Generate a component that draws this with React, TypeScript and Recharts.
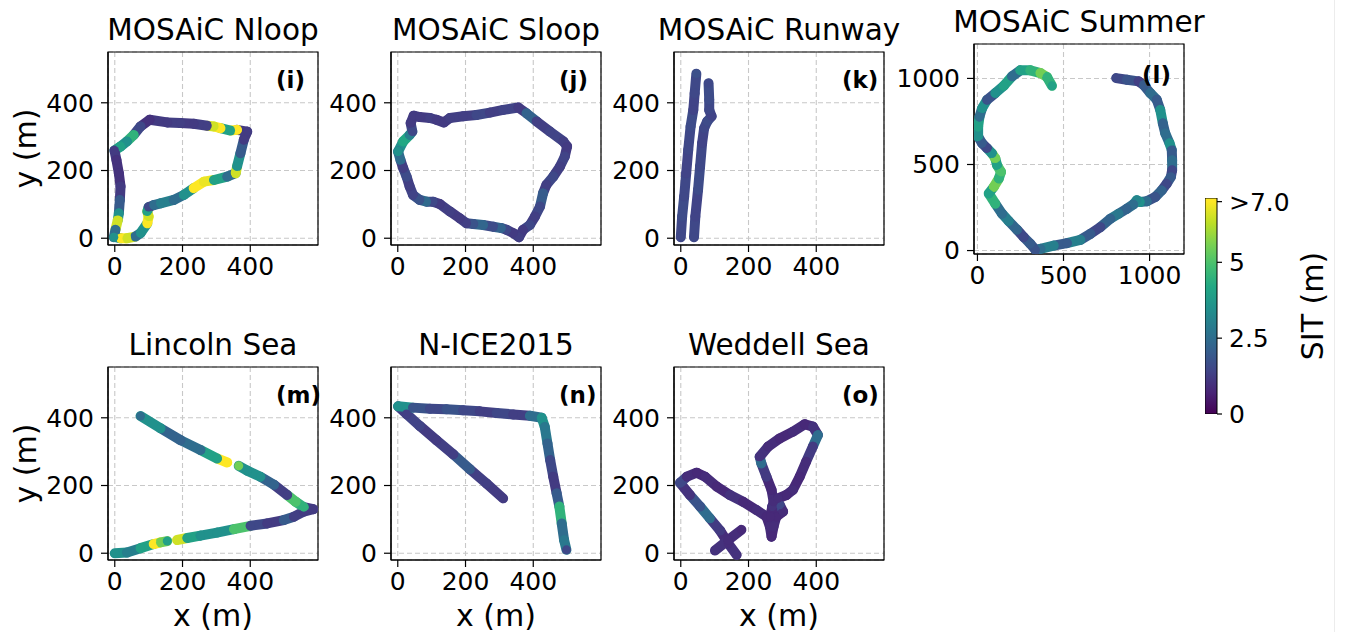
import React from "react";
import {
  ScatterChart,
  Scatter,
  XAxis,
  YAxis,
  ZAxis,
  CartesianGrid,
  ReferenceArea,
  Label,
  Cell,
  BarChart,
  Bar,
} from "recharts";

// survey tracks: x (m), y (m), SIT (m)
type Pt = [number, number, number];

const NLOOP: Pt[] = [
  [2, 3, 3.5], [17, 0, 7], [36, 0, 6.5], [61, 5, 2.5], [76, 15, 3.5], [96, 44, 7], [100, 64, 6.5],
  [96, 79, 4], [100, 92, 1.5], [115, 98, 2.5], [135, 103, 3], [174, 113, 2.5], [204, 128, 3.5],
  [233, 148, 7], [263, 167, 6.8], [293, 172, 4], [332, 182, 2.5], [357, 192, 6.5], [361, 212, 3.5],
  [371, 251, 2], [381, 291, 1.2], [391, 315, 1.2], [361, 320, 7], [342, 318, 4], [312, 325, 7],
  [293, 330, 6.5], [273, 332, 1.3], [233, 338, 1.2], [194, 340, 1.3], [155, 342, 1.2], [103, 350, 1.0],
  [76, 330, 1.5], [56, 305, 4.5], [36, 286, 3.5], [17, 271, 4], [-1, 259, 1.2], [5, 231, 1.0],
  [12, 192, 1.0], [17, 153, 1.2], [15, 113, 2.0], [12, 74, 3.5], [9, 54, 6.5], [2, 25, 2.5], [-3, 3, 3.5],
];

const SLOOP: Pt[] = [
  [1, 256, 3.5], [16, 286, 4.2], [35, 305, 3], [43, 315, 1.5], [38, 340, 1.2], [47, 362, 1.2],
  [65, 358, 1.2], [95, 355, 1.3], [114, 350, 1.2], [136, 342, 1.2], [154, 355, 1.3], [193, 360, 1.3],
  [232, 364, 1.5], [272, 371, 1.3], [311, 379, 1.4], [356, 386, 1.2], [380, 369, 2.2], [410, 345, 1.3],
  [449, 315, 1.4], [489, 286, 1.3], [500, 271, 1.2], [493, 241, 1.4], [479, 212, 1.3], [459, 182, 1.5],
  [439, 158, 1.3], [429, 133, 2], [420, 94, 1.5], [405, 64, 1.3], [390, 39, 1.5], [370, 25, 1.2],
  [358, 3, 1.3], [341, 15, 1.2], [321, 25, 1.5], [306, 30, 2.2], [282, 34, 1.6], [252, 39, 2.3],
  [223, 42, 1.8], [203, 44, 1.3], [183, 59, 1.2], [154, 79, 1.3], [124, 101, 1.2], [104, 108, 1.5],
  [85, 108, 2.4], [65, 113, 1.8], [45, 128, 1.4], [35, 153, 1.3], [26, 182, 1.6], [16, 207, 1.3],
  [8, 231, 2.5], [1, 256, 3.5],
];

const RUNWAY_A: Pt[] = [
  [0, 3, 1.5], [4, 64, 1.6], [10, 123, 1.5], [16, 192, 1.4], [22, 261, 1.5], [29, 330, 1.6],
  [37, 379, 1.4], [41, 428, 1.5], [46, 486, 1.7],
];
const RUNWAY_B: Pt[] = [
  [39, 3, 1.5], [43, 64, 1.4], [51, 143, 1.6], [57, 212, 1.5], [63, 281, 1.4], [69, 325, 1.5],
  [78, 345, 1.6], [91, 360, 1.4], [84, 379, 1.5], [84, 409, 1.6], [82, 458, 1.5],
];

const SUMMER: Pt[] = [
  [806, 1002, 1.5], [868, 992, 1.8], [936, 983, 1.3], [965, 963, 2], [1004, 915, 2.5], [1042, 876, 2],
  [1062, 817, 3.5], [1077, 739, 2.2], [1091, 681, 2.5], [1116, 623, 3.5], [1129, 584, 2], [1131, 525, 2.5],
  [1131, 467, 1.5], [1124, 428, 2], [1100, 389, 1.5], [1071, 350, 2.2], [1033, 311, 1.8], [984, 286, 2.5],
  [946, 282, 3.5], [926, 292, 3.2], [907, 269, 2.5], [868, 243, 2.2], [820, 214, 2.8], [772, 185, 2.2],
  [714, 136, 1.5], [656, 97, 2], [598, 62, 3], [520, 43, 2], [443, 29, 3], [366, 10, 2.5], [337, 4, 1.8],
  [307, 39, 2], [269, 78, 1.5], [230, 121, 2.3], [182, 171, 3], [143, 214, 2.5], [104, 272, 4.5],
  [66, 331, 4], [95, 370, 5.5], [124, 418, 4.5], [137, 457, 5], [114, 496, 4], [104, 535, 5.5],
  [85, 564, 3.5], [56, 594, 1.5], [27, 623, 2], [4, 662, 3.5], [4, 720, 4], [12, 778, 2.5], [27, 827, 3.5],
  [56, 876, 1.8], [104, 915, 3.5], [153, 957, 4], [201, 1012, 2.5], [249, 1047, 4], [307, 1047, 4.5],
  [366, 1031, 5.5], [404, 1008, 4.5], [433, 957, 4],
];

const LINCOLN_A: Pt[] = [
  [0, 0, 3.5], [36, 2, 3], [76, 15, 4], [115, 27, 7], [135, 32, 5.5], [155, 36, 4],
];
const LINCOLN_B: Pt[] = [
  [184, 39, 6.5], [214, 45, 4], [253, 52, 3.5], [302, 61, 3.5], [352, 71, 5], [401, 81, 1.5],
  [450, 88, 1.2], [499, 98, 2], [529, 108, 1.3], [558, 123, 1.2], [586, 130, 1.2], [558, 136, 4.5],
  [534, 152, 5], [509, 172, 1.3], [470, 202, 2.2], [430, 226, 3.5], [391, 244, 3.5], [366, 258, 5.5],
];
const LINCOLN_C: Pt[] = [
  [332, 268, 7], [302, 280, 4], [253, 305, 2.5], [194, 334, 2.2], [135, 369, 3.5], [76, 405, 2.5],
];

const NICE: Pt[] = [
  [311, 162, 1.2], [262, 206, 1.3], [213, 248, 2], [164, 292, 1.3], [114, 334, 1.2], [65, 376, 1.4],
  [26, 411, 1.3], [1, 434, 3.5], [45, 430, 1.8], [95, 427, 1.5], [144, 425, 1.8], [193, 422, 1.5],
  [242, 419, 1.3], [292, 414, 1.5], [341, 410, 1.3], [390, 406, 2.5], [425, 400, 3.5], [434, 373, 2.8],
  [442, 324, 2.2], [450, 275, 1.5], [459, 226, 1.2], [469, 177, 2], [477, 138, 4.5], [484, 88, 2.5],
  [491, 39, 2.8], [498, 10, 1.5],
];

const WEDDELL_A: Pt[] = [
  [165, -5, 1], [140, 29, 0.9], [116, 67, 1.2], [86, 103, 2.5], [57, 138, 1.8], [27, 172, 1],
  [-2, 208, 1.5], [18, 226, 0.9], [47, 238, 0.8], [72, 226, 0.9], [106, 197, 0.8], [145, 172, 1],
  [184, 152, 0.8], [223, 128, 0.9], [253, 108, 0.8], [263, 79, 0.9], [268, 49, 0.8], [274, 79, 0.9],
  [282, 108, 0.8], [302, 123, 0.9], [292, 143, 1.5], [270, 138, 1], [265, 108, 0.8], [274, 152, 0.9],
  [268, 187, 0.8], [253, 226, 1.2], [238, 265, 2.5], [233, 285, 1], [258, 315, 0.9], [292, 339, 0.8],
  [331, 359, 0.9], [366, 381, 0.8], [390, 374, 1], [405, 349, 2.5], [390, 315, 1.2], [370, 270, 0.9],
  [351, 226, 0.8], [331, 187, 0.9], [312, 172, 0.8], [287, 162, 0.9],
];
const WEDDELL_B: Pt[] = [[101, 8, 1], [140, 39, 0.9], [179, 69, 0.8]];

const TICKS_SMALL = [0, 200, 400];
const TICKS_BIG = [0, 500, 1000];
const SIT_TICKS = [0, 2.5, 5, 7];
const SIT_MAX = 7;
const SIT_TOP = 7.12;
const SIT_BAR = [{ name: "SIT", sit: SIT_TOP }];

const VIRIDIS = [
  "#440154", "#482475", "#414487", "#355f8d", "#2a788e", "#21918c",
  "#22a884", "#44bf70", "#7ad151", "#bddf26", "#fde725",
];

function rgb(h: string) {
  const n = parseInt(h.slice(1), 16);
  return [n >> 16, (n >> 8) & 255, n & 255];
}

function viridis(sit: number) {
  const t = Math.max(0, Math.min(1, sit / SIT_MAX)) * (VIRIDIS.length - 1);
  const i = Math.min(VIRIDIS.length - 2, Math.floor(t));
  const f = t - i;
  const a = rgb(VIRIDIS[i]);
  const b = rgb(VIRIDIS[i + 1]);
  const c = a.map((v, k) => Math.round(v + (b[k] - v) * f));
  return `rgb(${c[0]},${c[1]},${c[2]})`;
}

const FONT = "'DejaVu Sans', sans-serif";
const AX_W = 100;
const PAD_T = 12;
const PAD_R = 12;
const AX_H = 72;

type PanelCfg = {
  title: string;
  tag: string;
  left: number;
  top: number;
  w: number;
  h: number;
  xd: [number, number];
  yd: [number, number];
  ticks: number[];
  tracks: Pt[][];
  xLabel?: boolean;
  yLabel?: boolean;
};

const PANELS: PanelCfg[] = [
  { title: "MOSAiC Nloop", tag: "(i)", left: 108, top: 52, w: 210, h: 193, xd: [-20, 600], yd: [-20, 550], ticks: TICKS_SMALL, tracks: [NLOOP], yLabel: true },
  { title: "MOSAiC Sloop", tag: "(j)", left: 391, top: 52, w: 210, h: 193, xd: [-20, 600], yd: [-20, 550], ticks: TICKS_SMALL, tracks: [SLOOP] },
  { title: "MOSAiC Runway", tag: "(k)", left: 674, top: 52, w: 210, h: 193, xd: [-20, 600], yd: [-20, 550], ticks: TICKS_SMALL, tracks: [RUNWAY_A, RUNWAY_B] },
  { title: "MOSAiC Summer", tag: "(l)", left: 974, top: 44, w: 210, h: 210, xd: [-20, 1200], yd: [-20, 1200], ticks: TICKS_BIG, tracks: [SUMMER] },
  { title: "Lincoln Sea", tag: "(m)", left: 108, top: 367, w: 210, h: 193, xd: [-20, 600], yd: [-20, 550], ticks: TICKS_SMALL, tracks: [LINCOLN_A, LINCOLN_B, LINCOLN_C], xLabel: true, yLabel: true },
  { title: "N-ICE2015", tag: "(n)", left: 391, top: 367, w: 210, h: 193, xd: [-20, 600], yd: [-20, 550], ticks: TICKS_SMALL, tracks: [NICE], xLabel: true },
  { title: "Weddell Sea", tag: "(o)", left: 674, top: 367, w: 210, h: 193, xd: [-20, 600], yd: [-20, 550], ticks: TICKS_SMALL, tracks: [WEDDELL_A, WEDDELL_B], xLabel: true },
];

const tickStyle = { fill: "#000", fontSize: 25, fontFamily: FONT };
const labelStyle = { fill: "#000", fontSize: 30, fontFamily: FONT, textAnchor: "middle" as const };

function Panel({ p }: { p: PanelCfg }) {
  const segs = p.tracks.flatMap((tr) =>
    tr.slice(0, -1).map((pt, i) => ({
      color: viridis(pt[2]),
      data: [
        { x: pt[0], y: pt[1] },
        { x: tr[i + 1][0], y: tr[i + 1][1] },
      ],
    }))
  );
  const dots = p.tracks.flat().map(([x, y, sit]) => ({ x, y, sit }));
  return (
    <div style={{ position: "absolute", left: p.left - AX_W, top: p.top - PAD_T }}>
      <ScatterChart
        width={AX_W + p.w + PAD_R}
        height={PAD_T + p.h + AX_H}
        margin={{ top: PAD_T, right: PAD_R, bottom: 0, left: 0 }}
      >
        <CartesianGrid stroke="#c8c8c8" strokeDasharray="5 3" strokeWidth={1.1} />
        <XAxis
          type="number"
          dataKey="x"
          domain={p.xd}
          ticks={p.ticks}
          allowDataOverflow
          interval={0}
          height={AX_H}
          tick={tickStyle}
          tickSize={7}
          tickMargin={5}
          axisLine={{ stroke: "#000", strokeWidth: 1.2 }}
          tickLine={{ stroke: "#000", strokeWidth: 1.2 }}
        >
          {p.xLabel ? <Label value="x (m)" position="insideBottom" offset={6} style={labelStyle} /> : null}
        </XAxis>
        <YAxis
          type="number"
          dataKey="y"
          domain={p.yd}
          ticks={p.ticks}
          allowDataOverflow
          interval={0}
          width={AX_W}
          tick={tickStyle}
          tickSize={7}
          tickMargin={7}
          axisLine={{ stroke: "#000", strokeWidth: 1.2 }}
          tickLine={{ stroke: "#000", strokeWidth: 1.2 }}
        >
          {p.yLabel ? <Label value="y (m)" angle={-90} position="insideLeft" offset={17} style={labelStyle} /> : null}
        </YAxis>
        <ZAxis range={[80, 80]} />
        {segs.map((s, i) => (
          <Scatter
            key={`seg-${i}`}
            data={s.data}
            fill={s.color}
            line={{ stroke: s.color, strokeWidth: 10, strokeLinecap: "round" }}
            shape={() => <g />}
            isAnimationActive={false}
          />
        ))}
        <Scatter data={dots} isAnimationActive={false}>
          {dots.map((d, i) => (
            <Cell key={i} fill={viridis(d.sit)} />
          ))}
        </Scatter>
        <ReferenceArea
          x1={p.xd[0]}
          x2={p.xd[1]}
          y1={p.yd[0]}
          y2={p.yd[1]}
          fill="none"
          stroke="#000"
          strokeWidth={1.2}
        />
      </ScatterChart>
    </div>
  );
}

function Colorbar() {
  const left = 1205;
  const top = 198;
  const barW = 12;
  const barH = 216;
  return (
    <div style={{ position: "absolute", left, top: top - 20 }}>
      <BarChart
        width={barW + 120}
        height={barH + 40}
        data={SIT_BAR}
        margin={{ top: 20, right: 0, bottom: 20, left: 0 }}
        barCategoryGap={0}
      >
        <defs>
          <linearGradient id="viridisBar" x1="0" y1="1" x2="0" y2="0">
            {VIRIDIS.map((c, i) => (
              <stop key={c} offset={(i / (VIRIDIS.length - 1)) * (SIT_MAX / SIT_TOP)} stopColor={c} />
            ))}
            <stop offset={1} stopColor={VIRIDIS[VIRIDIS.length - 1]} />
          </linearGradient>
        </defs>
        <XAxis dataKey="name" hide />
        <YAxis
          orientation="right"
          type="number"
          domain={[0, SIT_TOP]}
          ticks={SIT_TICKS}
          allowDataOverflow
          interval={0}
          width={120}
          tick={tickStyle}
          tickSize={5}
          tickMargin={7}
          axisLine={false}
          tickLine={{ stroke: "#000", strokeWidth: 1.2 }}
          tickFormatter={(v: number) => (v === SIT_MAX ? ">7.0" : String(v))}
        >
          <Label value="SIT (m)" angle={-90} position="insideRight" offset={25} style={labelStyle} />
        </YAxis>
        <Bar dataKey="sit" fill="url(#viridisBar)" stroke="#000" strokeWidth={1} isAnimationActive={false} />
      </BarChart>
    </div>
  );
}

export default function App() {
  return (
    <div
      style={{
        position: "absolute",
        left: 0,
        top: 0,
        width: 1347,
        height: 632,
        background: "#fff",
        fontFamily: FONT,
        overflow: "hidden",
      }}
    >
      {PANELS.map((p) => (
        <Panel key={p.tag} p={p} />
      ))}
      <Colorbar />
      <svg width={1347} height={632} style={{ position: "absolute", left: 0, top: 0, pointerEvents: "none" }}>
        {PANELS.map((p) => (
          <g key={p.tag}>
            <text x={p.left + p.w / 2} y={p.top - 12} textAnchor="middle" fontSize={29.5} fontFamily={FONT} fill="#000">
              {p.title}
            </text>
            <text x={p.left + p.w * 0.8} y={p.top + p.h * 0.15 + 7} fontSize={23} fontWeight="bold" fontFamily={FONT} fill="#000">
              {p.tag}
            </text>
          </g>
        ))}
        <line x1={1334.5} y1={0} x2={1334.5} y2={632} stroke="#ececec" strokeWidth={1} />
      </svg>
    </div>
  );
}
